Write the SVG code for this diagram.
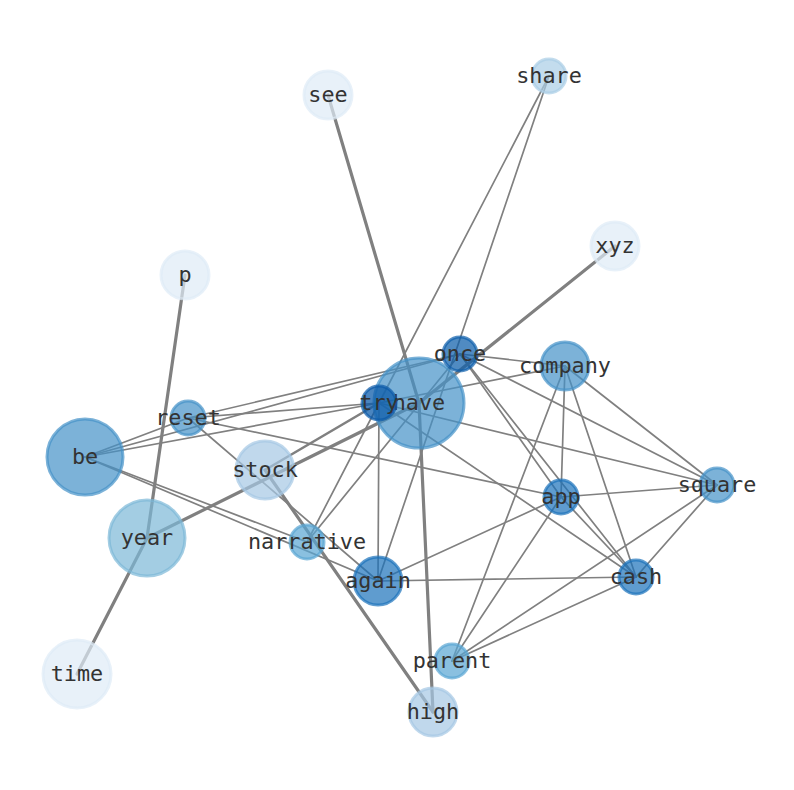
<svg xmlns="http://www.w3.org/2000/svg" width="794" height="790" viewBox="0 0 794 790">
<style>
.e{stroke:#808080;stroke-width:1.7;fill:none;stroke-linecap:round}
.t{stroke-width:3.2}
.m{stroke-width:2.6}
circle{stroke-width:3;fill-opacity:0.7;stroke-opacity:0.7}
text{font-family:"DejaVu Sans Mono","Liberation Mono",monospace;font-size:21.8px;fill:#333333;text-anchor:middle}
.c0{fill:#deebf7;stroke:#deebf7}
.c1{fill:#a9cde6;stroke:#a9cde6}
.c2{fill:#a5c8e4;stroke:#a5c8e4}
.c3{fill:#7cb8d7;stroke:#7cb8d7}
.c4{fill:#59a5d3;stroke:#59a5d3}
.c5{fill:#4592c7;stroke:#4592c7}
.c6{fill:#1b72ba;stroke:#1b72ba}
.c7{fill:#0d5eab;stroke:#0d5eab;fill-opacity:0.72}
.c8{fill:#0b5aa8;stroke:#0b5aa8;fill-opacity:0.74}
</style>
<rect width="794" height="790" fill="#ffffff"/>
<g id="edges">
<line class="e t" x1="328" y1="95" x2="419" y2="403"/>
<line class="e t" x1="615" y1="246" x2="419" y2="403"/>
<line class="e t" x1="419" y1="403" x2="433" y2="712"/>
<line class="e t" x1="265" y1="470" x2="433" y2="712"/>
<line class="e t" x1="147" y1="538" x2="419" y2="403"/>
<line class="e t" x1="147" y1="538" x2="185" y2="275"/>
<line class="e t" x1="147" y1="538" x2="77" y2="674"/>
<line class="e m" x1="265" y1="470" x2="379" y2="403"/>
<line class="e" x1="549" y1="76" x2="379" y2="403"/>
<line class="e" x1="549" y1="76" x2="378" y2="581"/>
<line class="e" x1="85" y1="457" x2="188" y2="418"/>
<line class="e" x1="85" y1="457" x2="460" y2="354"/>
<line class="e" x1="85" y1="457" x2="379" y2="403"/>
<line class="e" x1="85" y1="457" x2="307" y2="542"/>
<line class="e" x1="85" y1="457" x2="378" y2="581"/>
<line class="e" x1="188" y1="418" x2="460" y2="354"/>
<line class="e" x1="188" y1="418" x2="379" y2="403"/>
<line class="e" x1="188" y1="418" x2="561" y2="497"/>
<line class="e" x1="188" y1="418" x2="378" y2="581"/>
<line class="e" x1="307" y1="542" x2="379" y2="403"/>
<line class="e" x1="307" y1="542" x2="460" y2="354"/>
<line class="e" x1="379" y1="403" x2="378" y2="581"/>
<line class="e" x1="379" y1="403" x2="565" y2="366"/>
<line class="e" x1="379" y1="403" x2="717" y2="485"/>
<line class="e" x1="379" y1="403" x2="636" y2="577"/>
<line class="e" x1="460" y1="354" x2="565" y2="366"/>
<line class="e" x1="460" y1="354" x2="717" y2="485"/>
<line class="e" x1="460" y1="354" x2="561" y2="497"/>
<line class="e" x1="460" y1="354" x2="636" y2="577"/>
<line class="e" x1="565" y1="366" x2="561" y2="497"/>
<line class="e" x1="565" y1="366" x2="717" y2="485"/>
<line class="e" x1="565" y1="366" x2="636" y2="577"/>
<line class="e" x1="565" y1="366" x2="452" y2="661"/>
<line class="e" x1="561" y1="497" x2="717" y2="485"/>
<line class="e" x1="561" y1="497" x2="636" y2="577"/>
<line class="e" x1="561" y1="497" x2="378" y2="581"/>
<line class="e" x1="561" y1="497" x2="452" y2="661"/>
<line class="e" x1="378" y1="581" x2="636" y2="577"/>
<line class="e" x1="717" y1="485" x2="636" y2="577"/>
<line class="e" x1="717" y1="485" x2="452" y2="661"/>
<line class="e" x1="636" y1="577" x2="452" y2="661"/>
</g>
<g id="see"><circle class="c0" cx="328" cy="95" r="24"/><text x="328" y="102">see</text></g>
<g id="share"><circle class="c1" cx="549" cy="76" r="17"/><text x="549" y="83">share</text></g>
<g id="xyz"><circle class="c0" cx="615" cy="246" r="24"/><text x="615" y="253">xyz</text></g>
<g id="p"><circle class="c0" cx="185" cy="275" r="24"/><text x="185" y="282">p</text></g>
<g id="have"><circle class="c5" cx="419" cy="403" r="45"/><text x="419" y="410">have</text></g>
<g id="try"><circle class="c8" cx="379" cy="403" r="17"/><text x="379" y="410">try</text></g>
<g id="once"><circle class="c7" cx="460" cy="354" r="17"/><text x="460" y="361">once</text></g>
<g id="company"><circle class="c5" cx="565" cy="366" r="24"/><text x="565" y="373">company</text></g>
<g id="reset"><circle class="c5" cx="188" cy="418" r="17"/><text x="188" y="425">reset</text></g>
<g id="be"><circle class="c5" cx="85" cy="457" r="38"/><text x="85" y="464">be</text></g>
<g id="stock"><circle class="c2" cx="265" cy="470" r="29"/><text x="265" y="477">stock</text></g>
<g id="year"><circle class="c3" cx="147" cy="538" r="38"/><text x="147" y="545">year</text></g>
<g id="narrative"><circle class="c4" cx="307" cy="542" r="17"/><text x="307" y="549">narrative</text></g>
<g id="again"><circle class="c6" cx="378" cy="581" r="24"/><text x="378" y="588">again</text></g>
<g id="app"><circle class="c6" cx="561" cy="497" r="17"/><text x="561" y="504">app</text></g>
<g id="square"><circle class="c5" cx="717" cy="485" r="17"/><text x="717" y="492">square</text></g>
<g id="cash"><circle class="c6" cx="636" cy="577" r="17"/><text x="636" y="584">cash</text></g>
<g id="parent"><circle class="c4" cx="452" cy="661" r="17"/><text x="452" y="668">parent</text></g>
<g id="high"><circle class="c2" cx="433" cy="712" r="24"/><text x="433" y="719">high</text></g>
<g id="time"><circle class="c0" cx="77" cy="674" r="34"/><text x="77" y="681">time</text></g>
</svg>
